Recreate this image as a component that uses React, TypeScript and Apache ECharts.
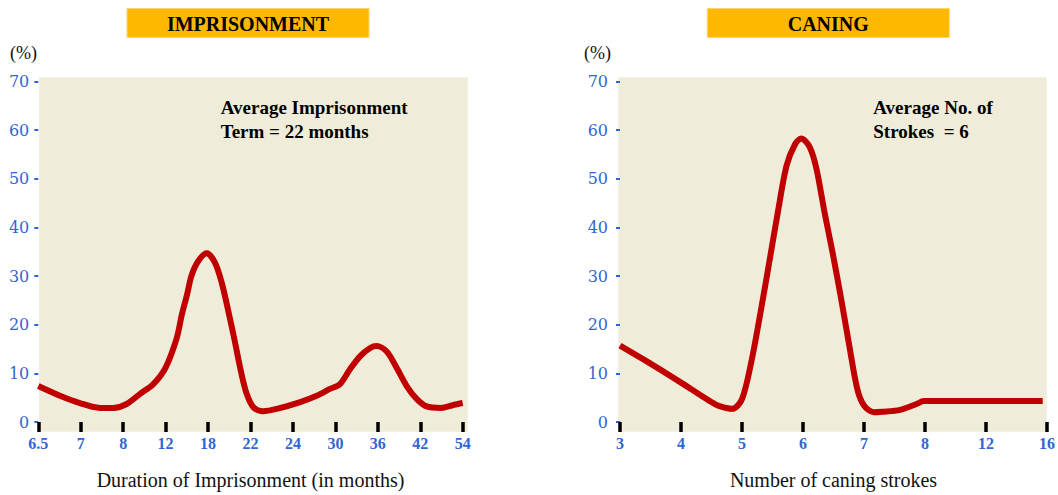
import React, { useEffect, useRef } from "react";
import * as echarts from "echarts";

// Imprisonment chart data (x positions are tick indices along the axis)
const imprisonmentTicks = ["6.5", "7", "8", "12", "18", "22", "24", "30", "36", "42", "54"];
const imprisonmentPos = [0, 0.51, 0.98, 1.45, 1.77, 2.08, 2.4, 2.71, 3.0, 3.26, 3.38, 3.5, 3.61, 3.77, 3.97, 4.16, 4.32, 4.48, 4.63, 4.79, 4.91, 5.07, 5.3, 5.62, 6.17, 6.56, 6.87, 7.11, 7.34, 7.58, 7.82, 7.97, 8.21, 8.44, 8.68, 8.92, 9.15, 9.49, 9.78, 10];
const imprisonmentPct = [7.4, 5.4, 3.9, 2.9, 2.9, 3.7, 5.8, 7.8, 11.2, 17.2, 22, 26, 30.1, 33.1, 34.7, 32.8, 28.7, 22.7, 16.6, 9.8, 5.8, 3.0, 2.2, 2.7, 4.1, 5.4, 6.8, 7.8, 10.8, 13.5, 15.2, 15.6, 14.5, 11.2, 7.4, 4.7, 3.2, 2.9, 3.5, 3.9];

// Caning chart data
const caningTicks = ["3", "4", "5", "6", "7", "8", "12", "16"];
const caningPos = [0, 0.5, 1.0, 1.46, 1.62, 1.84, 2.0, 2.16, 2.32, 2.46, 2.59, 2.73, 2.87, 2.97, 3.11, 3.22, 3.35, 3.49, 3.62, 3.76, 3.89, 4.0, 4.16, 4.3, 4.59, 4.86, 4.98, 6.0, 6.93];
const caningPct = [15.7, 12.0, 8.1, 4.4, 3.3, 2.7, 4.7, 12.8, 23.7, 33.8, 43.3, 52.7, 57.1, 58.3, 56.5, 52.1, 43.3, 34.5, 25.7, 15.6, 6.8, 3.4, 2.0, 2.1, 2.5, 3.7, 4.3, 4.3, 4.3];

const yTicks = [0, 10, 20, 30, 40, 50, 60, 70];

const BLUE = "#2f66d4";
const RED = "#c00000";
const CREAM = "#efedda";
const AMBER = "#ffb800";

export default function App() {
  const ref = useRef<HTMLDivElement>(null);
  useEffect(() => {
    if (!ref.current) return;
    const chart = echarts.init(ref.current, undefined, { renderer: "svg" });
    const yAxisBase = (margin: number) => ({
      type: "value",
      min: yTicks[0],
      max: yTicks[yTicks.length - 1],
      interval: 10,
      axisLine: { show: false },
      splitLine: { show: false },
      axisTick: { show: true, length: 4, lineStyle: { color: BLUE, width: 2 } },
      axisLabel: { color: BLUE, fontFamily: "'DejaVu Serif', 'Liberation Serif', serif", fontSize: 16, margin },
    });
    const xAxisBase = (ticks: string[], name: string, gi: number) => ({
      type: "value",
      gridIndex: gi,
      min: 0,
      max: ticks.length - 1,
      interval: 1,
      axisLine: { show: false },
      splitLine: { show: false },
      axisTick: { show: true, length: 10, lineStyle: { color: "#000", width: 3.5 } },
      axisLabel: {
        color: BLUE,
        fontFamily: "'Liberation Serif', serif",
        fontWeight: "bold",
        fontSize: 16,
        margin: 13,
        formatter: (v: number) => ticks[Math.round(v)] ?? "",
      },
      name,
      nameLocation: "middle",
      nameGap: 48,
      nameTextStyle: { fontFamily: "'Liberation Serif', serif", fontSize: 20, color: "#111" },
    });
    const titleBox = (x: number, w: number, label: string) => ({
      type: "group",
      children: [
        {
          type: "rect",
          shape: { x, y: 8.5, width: w, height: 29 },
          style: { fill: AMBER, stroke: "#ffd46a", lineWidth: 1 },
        },
        {
          type: "text",
          x: x + w / 2,
          y: 23.5,
          style: {
            text: label,
            fill: "#000",
            font: "bold 20px 'Liberation Serif'",
            align: "center",
            verticalAlign: "middle",
          },
        },
      ],
    });
    const note = (x: number, lines: string) => ({
      type: "text",
      x,
      y: 95,
      style: {
        text: lines,
        fill: "#000",
        font: "bold 19px 'Liberation Serif'",
        lineHeight: 24.5,
        align: "left",
        verticalAlign: "top",
      },
    });
    const percent = (x: number) => ({
      type: "text",
      x,
      y: 53,
      style: { text: "(%)", fill: "#111", font: "18px 'Liberation Serif'", align: "left", verticalAlign: "middle" },
    });
    chart.setOption({
      animation: false,
      grid: [
        { left: 38.3, right: 1058 - 462.7, top: 81.5, bottom: 495 - 426.7 },
        { left: 620, right: 1058 - 1051.7, top: 81.5, bottom: 495 - 426.7 },
      ],
      xAxis: [
        xAxisBase(imprisonmentTicks, "Duration of Imprisonment (in months)", 0),
        xAxisBase(caningTicks, "Number of caning strokes", 1),
      ],
      yAxis: [
        { ...yAxisBase(9), gridIndex: 0 },
        { ...yAxisBase(12), gridIndex: 1 },
      ],
      graphic: [
        { type: "rect", z: -10, shape: { x: 39, y: 77.3, width: 428.7, height: 354.4 }, style: { fill: CREAM } },
        { type: "rect", z: -10, shape: { x: 618.3, y: 77.3, width: 428.4, height: 354.4 }, style: { fill: CREAM } },
        titleBox(127, 242, "IMPRISONMENT"),
        titleBox(707.3, 242, "CANING"),
        percent(10),
        percent(584),
        note(220.7, "Average Imprisonment\nTerm = 22 months"),
        note(873.3, "Average No. of\nStrokes  = 6"),
      ],
      series: [
        {
          type: "line",
          xAxisIndex: 0,
          yAxisIndex: 0,
          data: imprisonmentPos.map((p, i) => [p, imprisonmentPct[i]]),
          smooth: 0.3,
          showSymbol: false,
          lineStyle: { color: RED, width: 6 },
          z: 5,
        },
        {
          type: "line",
          xAxisIndex: 1,
          yAxisIndex: 1,
          data: caningPos.map((p, i) => [p, caningPct[i]]),
          smooth: 0.3,
          showSymbol: false,
          lineStyle: { color: RED, width: 6 },
          z: 5,
        },
      ],
    });
    return () => chart.dispose();
  }, []);
  return (
    <div
      ref={ref}
      style={{ position: "fixed", left: 0, top: 0, width: 1058, height: 495, background: "#fff" }}
    />
  );
}
